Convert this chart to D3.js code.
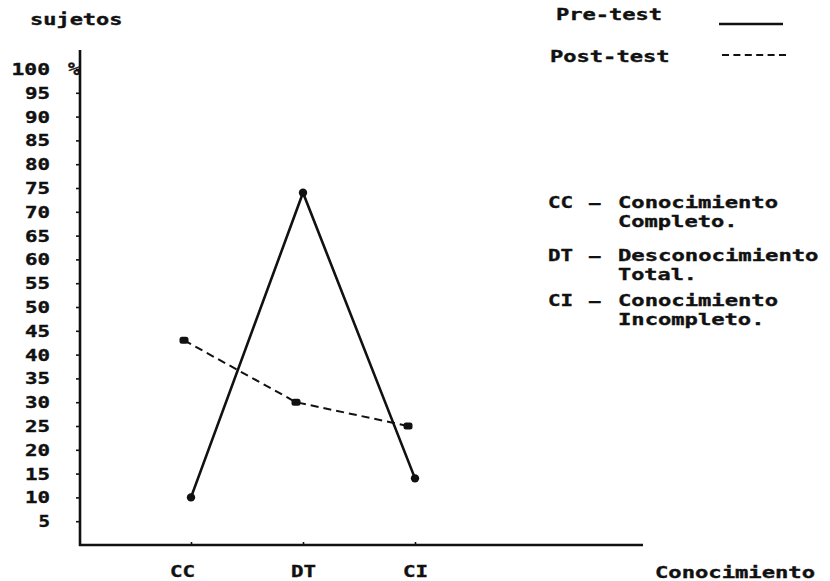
<!DOCTYPE html>
<html><head><meta charset="utf-8">
<script src="https://cdn.jsdelivr.net/npm/d3@7"></script>
<style>
html,body{margin:0;padding:0;background:#fff;}
svg text{font-family:"DejaVu Sans Mono",monospace;font-weight:bold;fill:#111;}
</style></head>
<body>
<svg id="c" width="830" height="581"></svg>
<script>
const categories = ["CC", "DT", "CI"];
const preTest = [10, 74, 14];
const postTest = [43, 30, 25];
const yTicks = [5,10,15,20,25,30,35,40,45,50,55,60,65,70,75,80,85,90,95,100];
const seriesNames = ["Pre-test", "Post-test"];
const glossary = [
  ["CC", "Conocimiento", "Completo."],
  ["DT", "Desconocimiento", "Total."],
  ["CI", "Conocimiento", "Incompleto."]
];
const yTitle = "sujetos";
const xTitle = "Conocimiento";

const svg = d3.select("#c");
const ink = "#111";
const FS = 15, PITCH = 13.5;
const FF = '"DejaVu Sans Mono", monospace';

const y = d3.scaleLinear().domain([0, 100]).range([545, 69]);
const x = d3.scalePoint().domain(categories).range([191, 415]);
const axisX0 = 80;

// typewriter-style text: monospace glyphs stretched to a fixed pitch
function tw(sel, s) {
  if (s !== undefined) sel.text(s);
  sel.each(function () {
    const t = d3.select(this);
    const n = t.text().length;
    t.attr("textLength", n * PITCH - 2).attr("lengthAdjust", "spacingAndGlyphs");
  });
  return sel.attr("font-size", FS)
    .style("font-family", FF).style("font-weight", "bold")
    .attr("fill", ink).attr("stroke", ink).attr("stroke-width", 0.35);
}

// Axes lines
svg.append("line").attr("x1", axisX0).attr("x2", axisX0).attr("y1", 50).attr("y2", y(0) + 1)
  .attr("stroke", ink).attr("stroke-width", 2.6);
svg.append("line").attr("x1", axisX0 - 1).attr("x2", 643).attr("y1", y(0)).attr("y2", y(0))
  .attr("stroke", ink).attr("stroke-width", 2.4);

// Y axis ticks and labels
const yAxis = d3.axisLeft(y).tickValues(yTicks).tickSize(4).tickPadding(0)
  .tickFormat(d => d);
const gy = svg.append("g").attr("transform", `translate(${axisX0},0)`).call(yAxis);
gy.select(".domain").remove();
gy.selectAll(".tick line").attr("stroke", ink).attr("stroke-width", 1.6);
tw(gy.selectAll(".tick text"))
  .attr("x", -(axisX0 - 50))
  .attr("dy", "0.36em")
  .attr("text-anchor", "end");
tw(svg.append("text"), "%").attr("x", 68).attr("y", y(100)).attr("dy", "0.38em")
  .attr("font-size", 17).attr("textLength", 12);

// X axis ticks and labels
const xAxis = d3.axisBottom(x).tickSize(-3).tickPadding(0);
const gx = svg.append("g").attr("transform", `translate(0,${y(0)})`).call(xAxis);
gx.select(".domain").remove();
gx.selectAll(".tick line").attr("stroke", ink).attr("stroke-width", 1.6);
tw(gx.selectAll(".tick text")).attr("y", 32).attr("dy", null)
  .attr("dx", (d, i) => (i === 0 ? -9 : 0)).attr("text-anchor", "middle");

// Titles
tw(svg.append("text"), yTitle).attr("x", 30).attr("y", 25);
tw(svg.append("text"), xTitle).attr("x", 655).attr("y", 578);

// Series
const postOffset = -7;
const preData = categories.map((c, i) => ({ x: x(c), y: y(preTest[i]) }));
const postData = categories.map((c, i) => ({ x: x(c) + postOffset, y: y(postTest[i]) }));
const line = d3.line().x(d => d.x).y(d => d.y);

svg.append("path").datum(preData).attr("d", line).attr("fill", "none")
  .attr("stroke", ink).attr("stroke-width", 2.6);
svg.append("path").datum(postData).attr("d", line).attr("fill", "none")
  .attr("stroke", ink).attr("stroke-width", 2).attr("stroke-dasharray", "8,5");

svg.selectAll("circle.pre").data(preData).join("circle").attr("class", "pre")
  .attr("cx", d => d.x).attr("cy", d => d.y).attr("r", 4.2).attr("fill", ink);
svg.selectAll("rect.post").data(postData).join("rect").attr("class", "post")
  .attr("x", d => d.x - 4.5).attr("y", d => d.y - 3.5).attr("width", 9).attr("height", 7)
  .attr("rx", 2.5).attr("fill", ink);

// Legend
tw(svg.append("text"), seriesNames[0]).attr("x", 556).attr("y", 20);
svg.append("line").attr("x1", 719).attr("x2", 783).attr("y1", 24).attr("y2", 24)
  .attr("stroke", ink).attr("stroke-width", 2.4);
tw(svg.append("text"), seriesNames[1]).attr("x", 550).attr("y", 62);
svg.append("line").attr("x1", 722).attr("x2", 786).attr("y1", 55).attr("y2", 55)
  .attr("stroke", ink).attr("stroke-width", 2).attr("stroke-dasharray", "7,4.4");

// Glossary
const gl = svg.append("g");
const rowY = [208, 261, 306];
glossary.forEach((g, i) => {
  const by = rowY[i];
  tw(gl.append("text"), g[0]).attr("x", 548).attr("y", by);
  tw(gl.append("text"), "–").attr("x", 589).attr("y", by);
  tw(gl.append("text"), g[1]).attr("x", 618).attr("y", by);
  tw(gl.append("text"), g[2]).attr("x", 618).attr("y", by + 19);
});
</script>
</body></html>
